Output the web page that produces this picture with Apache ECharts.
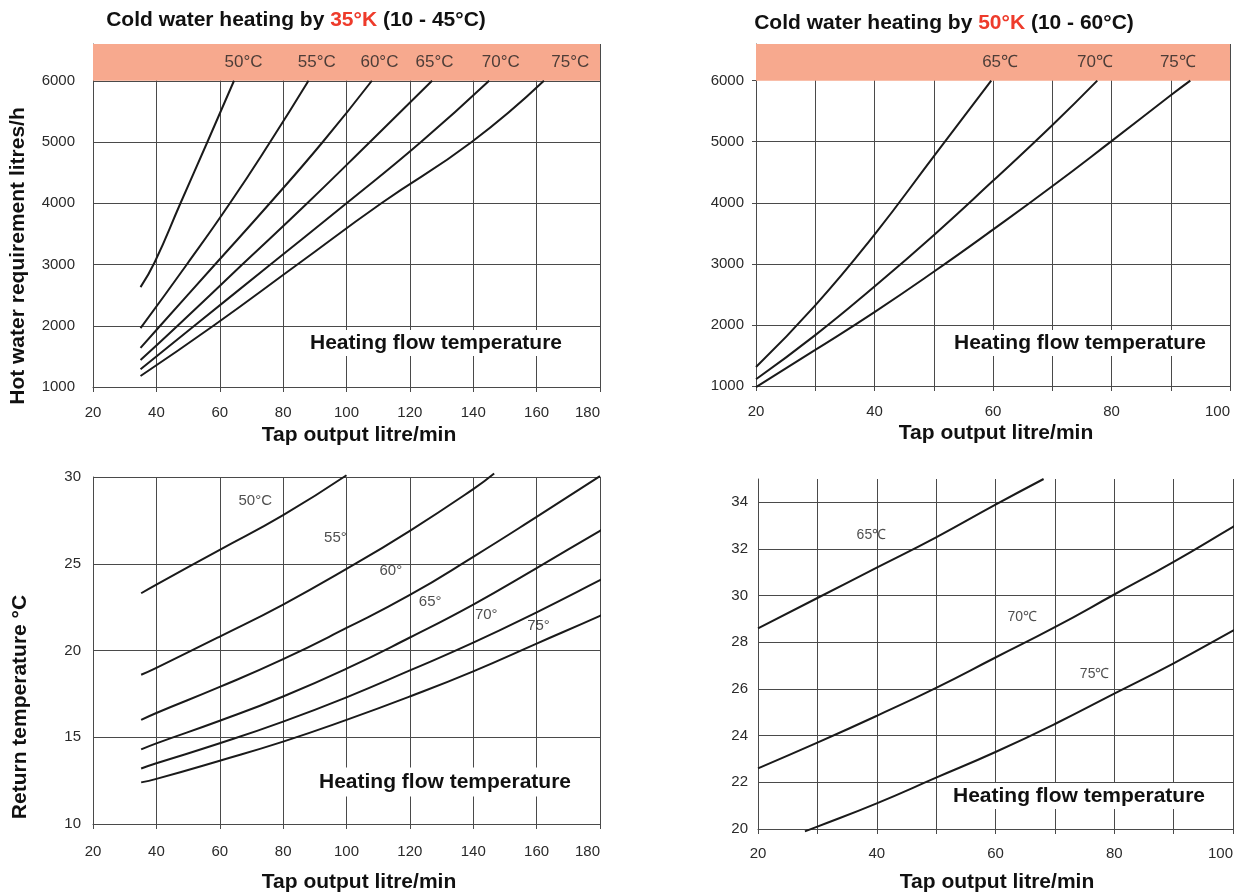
<!DOCTYPE html>
<html>
<head>
<meta charset="utf-8">
<title>Cold water heating</title>
<script src="https://cdn.jsdelivr.net/npm/echarts@6/dist/echarts.min.js"></script>
<style>
  html, body { margin: 0; padding: 0; background: #fff; }
  #main { width: 1245px; height: 895px; }
</style>
</head>
<body>
<div id="main"></div>
<script>
// hot water requirement litres/h over tap output litre/min, 35K (10 - 45°C)
var req35_50 = [[35, 2630], [39.5, 3040], [47.6, 4000], [56.1, 5000], [64.5, 6000]];
var req35_55 = [[35, 1960], [49.6, 3000], [63.2, 4000], [75.9, 5000], [88, 6000]];
var req35_60 = [[35, 1640], [41.2, 2000], [58.5, 3000], [75.8, 4000], [92.5, 5000], [108, 6000]];
var req35_65 = [[35, 1440], [46.7, 2000], [67.1, 3000], [87.6, 4000], [107.4, 5000], [127, 6000]];
var req35_70 = [[35, 1290], [52, 2000], [76, 3000], [100, 4000], [123.5, 5000], [145, 6000]];
var req35_75 = [[35, 1180], [58, 2000], [84.5, 3000], [111, 4000], [139.5, 5000], [162.3, 6000]];

// same, 50K (10 - 60°C)
var req50_65 = [[20, 1310], [30, 2320], [40, 3480], [50, 4760], [59.7, 6000]];
var req50_70 = [[20, 1110], [30, 1833], [40, 2630], [50, 3470], [60, 4360], [70, 5270], [77.6, 6000]];
var req50_75 = [[20, 980], [30, 1590], [40, 2210], [50, 2870], [60, 3560], [70, 4270], [80, 5010], [90, 5760], [93.3, 6000]];

// return temperature °C, 35K
var ret35_50 = [[35.2, 23.3], [40, 23.8], [60, 25.8], [80, 27.8], [100, 30.1]];
var ret35_55 = [[35.2, 18.6], [40, 19.0], [60, 20.8], [80, 22.65], [100, 24.7], [120, 26.9], [140, 29.3], [146.6, 30.2]];
var ret35_60 = [[35.2, 16.0], [40, 16.4], [60, 17.9], [80, 19.5], [100, 21.3], [120, 23.2], [140, 25.4], [160, 27.7], [180, 30.05]];
var ret35_65 = [[35.2, 14.3], [40, 14.65], [60, 15.95], [80, 17.35], [100, 18.95], [120, 20.75], [140, 22.65], [160, 24.75], [180, 26.9], [181.5, 27.05]];
var ret35_70 = [[35.2, 13.2], [40, 13.5], [60, 14.65], [80, 15.9], [100, 17.3], [120, 18.85], [140, 20.45], [160, 22.2], [180, 24.05], [181.5, 24.2]];
var ret35_75 = [[35.2, 12.4], [40, 12.6], [60, 13.65], [80, 14.75], [100, 16.0], [120, 17.35], [140, 18.8], [160, 20.4], [180, 22.0], [181.5, 22.15]];

// return temperature °C, 50K
var ret50_65 = [[20, 28.6], [30, 29.9], [40, 31.2], [50, 32.5], [60, 33.9], [68.1, 35.0]];
var ret50_70 = [[20, 22.6], [30, 23.7], [40, 24.85], [50, 26.05], [60, 27.35], [70, 28.65], [80, 30.05], [90, 31.45], [100, 32.95], [100.7, 33.05]];
var ret50_75 = [[27.9, 19.9], [30, 20.1], [40, 21.1], [50, 22.2], [60, 23.3], [70, 24.5], [80, 25.8], [90, 27.1], [100, 28.5], [100.7, 28.6]];

// curve names and where they are written
var band35Names = ['50°C', '55°C', '60°C', '65°C', '70°C', '75°C'];
var band35At = [67.5, 90.6, 110.4, 127.8, 148.7, 170.6];
var band50Names = ['65℃', '70℃', '75℃'];
var band50At = [61.2, 77.2, 91.2];
var ret35Names = ['50°C', '55°', '60°', '65°', '70°', '75°'];
var ret35At = [[71.2, 28.6], [96.5, 26.5], [114, 24.6], [126.4, 22.8], [144.1, 22.05], [160.6, 21.4]];
var ret50Names = ['65℃', '70℃', '75℃'];
var ret50At = [[39.1, 32.6], [64.5, 29.1], [76.7, 26.65]];

var FONT = '"Liberation Sans", Arial, sans-serif';
var GRID = '#4a4a4a';
var INK = '#1a1a1a';
var BAND = '#F7A98E';

var myChart = echarts.init(document.getElementById('main'));

function xAx(gi, min, max, interval, margin, every) {
  return {
    type: 'value', gridIndex: gi, min: min, max: max, interval: interval,
    axisLine: {show: true, lineStyle: {color: GRID}},
    axisTick: {show: true, length: 5, lineStyle: {color: GRID}},
    splitLine: {show: true, lineStyle: {color: GRID, width: 1}},
    axisLabel: {
      color: '#2a2a2a', fontSize: 15, fontFamily: FONT, margin: margin, alignMaxLabel: 'right',
      formatter: function (v) { return v % every === 0 ? v : ''; }
    }
  };
}

function yAx(gi, min, max, interval, margin, top, tick) {
  return {
    type: 'value', gridIndex: gi, min: min, max: max, interval: interval,
    axisLine: {show: true, lineStyle: {color: GRID}},
    axisTick: tick ? {show: true, length: 4, lineStyle: {color: GRID}, customValues: tick} : {show: false},
    splitLine: {show: true, showMaxLine: max === top, lineStyle: {color: GRID, width: 1}},
    axisLabel: {
      color: '#2a2a2a', fontSize: 15, fontFamily: FONT, margin: margin,
      formatter: function (v) { return v <= top ? v : ''; }
    }
  };
}

function curve(data, gi) {
  return {
    type: 'line', xAxisIndex: gi, yAxisIndex: gi, data: data,
    symbol: 'none', smooth: 0.5, clip: false, silent: true, z: 3,
    lineStyle: {color: INK, width: 2}
  };
}

function tags(names, pts, gi, size) {
  var data = names.map(function (n, i) { return {name: n, value: pts[i]}; });
  return {
    type: 'scatter', xAxisIndex: gi, yAxisIndex: gi, data: data, clip: false, silent: true, z: 6,
    symbolSize: 1, itemStyle: {color: 'rgba(0,0,0,0)'},
    label: {show: true, position: 'inside', formatter: '{b}', color: '#222', fontSize: size, fontFamily: FONT}
  };
}

function band(gi, x0, x1) {
  return {
    type: 'line', xAxisIndex: gi, yAxisIndex: gi, data: [], z: 1, silent: true,
    markArea: {silent: true, itemStyle: {color: BAND}, data: [[{coord: [x0, 6000]}, {coord: [x1, 6600]}]]}
  };
}

function text(x, y, str, size, rot, pad) {
  var el = {
    type: 'text', x: x, y: y, z: 100, silent: true,
    style: {text: str, font: 'bold ' + size + 'px ' + FONT, fill: '#111', align: 'center', verticalAlign: 'middle'}
  };
  if (rot) el.rotation = Math.PI / 2;
  if (pad) { el.style.backgroundColor = '#fff'; el.style.padding = pad; }
  return el;
}

function title(x, y, k, range) {
  return {
    type: 'text', x: x, y: y, z: 100, silent: true,
    style: {
      text: '{b|Cold water heating by }{r|' + k + '}{b| (' + range + ')}',
      align: 'center', verticalAlign: 'middle',
      rich: {
        b: {font: 'bold 21px ' + FONT, fill: '#111'},
        r: {font: 'bold 21px ' + FONT, fill: '#EE3B2B'}
      }
    }
  };
}

// 配置项
var option = {
  animation: false,
  backgroundColor: '#fff',
  grid: [
    {left: 93, top: 44, width: 507, height: 343},
    {left: 756, top: 44, width: 474, height: 342},
    {left: 93, top: 477, width: 507, height: 347},
    {left: 758, top: 479, width: 475, height: 350}
  ],
  xAxis: [
    xAx(0, 20, 180, 20, 18, 20),
    xAx(1, 20, 100, 10, 18, 20),
    xAx(2, 20, 180, 20, 20, 20),
    xAx(3, 20, 100, 10, 17, 20)
  ],
  yAxis: [
    yAx(0, 1000, 6600, 1000, 18, 6000, null),
    yAx(1, 1000, 6600, 1000, 12, 6000, [1000, 2000, 3000, 4000, 5000, 6000]),
    yAx(2, 10, 30, 5, 12, 30, null),
    yAx(3, 20, 35, 2, 10, 34, null)
  ],
  series: [
    band(0, 20, 180),
    band(1, 19.5, 100),
    curve(req35_50, 0), curve(req35_55, 0), curve(req35_60, 0),
    curve(req35_65, 0), curve(req35_70, 0), curve(req35_75, 0),
    curve(req50_65, 1), curve(req50_70, 1), curve(req50_75, 1),
    curve(ret35_50, 2), curve(ret35_55, 2), curve(ret35_60, 2),
    curve(ret35_65, 2), curve(ret35_70, 2), curve(ret35_75, 2),
    curve(ret50_65, 3), curve(ret50_70, 3), curve(ret50_75, 3),
    tags(band35Names, band35At.map(function (x) { return [x, 6300]; }), 0, 17),
    tags(band50Names, band50At.map(function (x) { return [x, 6300]; }), 1, 17),
    tags(ret35Names, ret35At, 2, 15),
    tags(ret50Names, ret50At, 3, 14)
  ],
  graphic: [
    title(296, 20, '35°K', '10 - 45°C'),
    title(944, 23, '50°K', '10 - 60°C'),
    text(436, 343, 'Heating flow temperature', 21, false, [1, 6, 4, 6]),
    text(1080, 343, 'Heating flow temperature', 21, false, [1, 6, 4, 6]),
    text(445, 782, 'Heating flow temperature', 21, false, [4, 6]),
    text(1079, 796, 'Heating flow temperature', 21, false, [1, 6, 4, 6]),
    text(359, 435, 'Tap output litre/min', 21),
    text(996, 433, 'Tap output litre/min', 21),
    text(359, 882, 'Tap output litre/min', 21),
    text(997, 882, 'Tap output litre/min', 21),
    text(18, 256, 'Hot water requirement litres/h', 21, true),
    text(20, 707, 'Return temperature °C', 21, true)
  ]
};

myChart.setOption(option);
</script>
</body>
</html>
